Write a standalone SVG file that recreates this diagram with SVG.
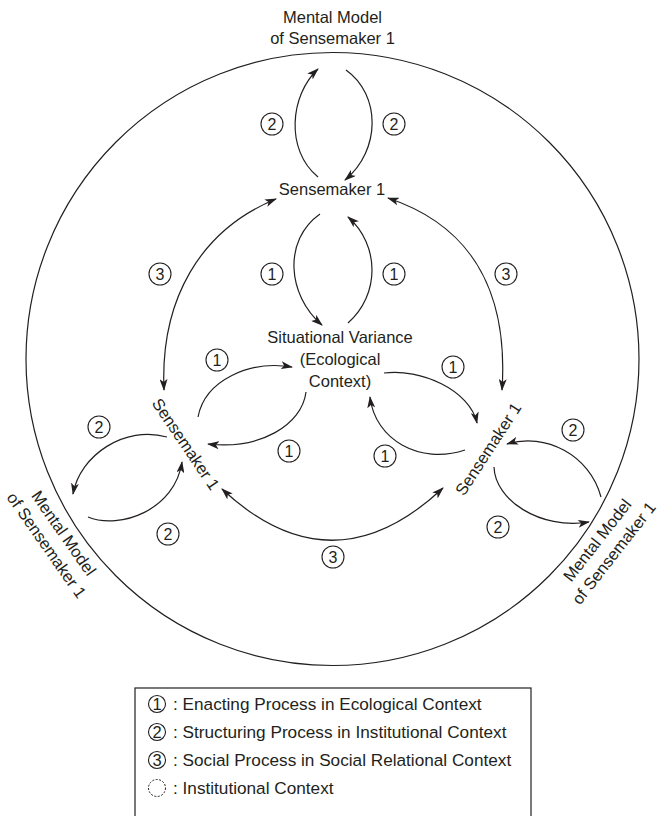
<svg xmlns="http://www.w3.org/2000/svg" width="659" height="816" viewBox="0 0 659 816">
<style>
text{font-family:"Liberation Sans",Arial,sans-serif;fill:#231f20}
.lbl{font-size:16.5px;text-anchor:middle}
.num{font-size:16px;text-anchor:middle}
.lnum{font-size:16.5px;text-anchor:middle}
.leg{font-size:17.2px}
.ring{fill:none;stroke:#231f20;stroke-width:1.1}
.arc{fill:none;stroke:#231f20;stroke-width:1.2;marker-end:url(#ah)}
.both{marker-start:url(#ah)}
.plain{fill:none;stroke:#231f20;stroke-width:1.2}
</style>
<defs>
<marker id="ah" viewBox="0 0 12 8" refX="11" refY="4" markerWidth="12" markerHeight="8" orient="auto-start-reverse" markerUnits="userSpaceOnUse">
<path d="M0,0 L12,4 L0,8 L3,4 z" fill="#231f20"/>
</marker>
</defs>
<rect width="659" height="816" fill="#fff"/>

<g id="institutional-context">
<circle class="plain" cx="332.5" cy="359" r="306.5"/>
</g>

<g id="mental-model-top">
<text class="lbl" x="332.5" y="23">Mental Model</text>
<text class="lbl" x="332.5" y="44">of Sensemaker 1</text>
</g>
<g id="sensemaker-top">
<text class="lbl" x="332" y="195">Sensemaker 1</text>
</g>
<g id="situational-variance">
<text class="lbl" x="340" y="343">Situational Variance</text>
<text class="lbl" x="340" y="365">(Ecological</text>
<text class="lbl" x="340" y="387">Context)</text>
</g>
<g id="sensemaker-left" transform="translate(186,444) rotate(56)">
<text class="lbl" x="0" y="6">Sensemaker 1</text>
</g>
<g id="sensemaker-right" transform="translate(488,449) rotate(-57)">
<text class="lbl" x="0" y="6">Sensemaker 1</text>
</g>
<g id="mental-model-left" transform="translate(64,533) rotate(55)">
<text class="lbl" x="0" y="6">Mental Model</text>
<text class="lbl" x="0" y="27">of Sensemaker 1</text>
</g>
<g id="mental-model-right" transform="translate(597,540) rotate(-52)">
<text class="lbl" x="0" y="6">Mental Model</text>
<text class="lbl" x="0" y="27">of Sensemaker 1</text>
</g>

<g id="connectors">
<path class="arc" d="M318,177 C285,150 290,95 318,69"/>
<path class="arc" d="M346,70 C381,95 381,150 345,180"/>
<path class="arc" d="M320,214 C283,240 287,295 322,325"/>
<path class="arc" d="M348,323 C380,295 380,245 348,217"/>
<path class="arc both" d="M276,199 C200,230 160,300 164,390"/>
<path class="arc both" d="M388,198 C478,228 508,300 502,390"/>
<path class="arc" d="M167,437 C125,425 80,455 73,494"/>
<path class="arc" d="M88,517 C120,530 175,510 182,462"/>
<path class="arc" d="M198,417 C205,380 250,360 292,367"/>
<path class="arc" d="M306,392 C302,425 260,450 208,444"/>
<path class="arc" d="M384,373 C420,368 470,390 477,423"/>
<path class="arc" d="M465,450 C420,465 375,440 370,397"/>
<path class="arc" d="M601,497 C590,455 545,432 507,444"/>
<path class="arc" d="M494,467 C495,500 540,530 589,522"/>
<path class="arc both" d="M222,489 Q332,592 443,488"/>
</g>

<g id="process-labels">
<g id="p2a"><circle class="ring" cx="272" cy="124" r="11"/><text class="num" x="272" y="130">2</text></g>
<g id="p2b"><circle class="ring" cx="394" cy="124" r="11"/><text class="num" x="394" y="130">2</text></g>
<g id="p3a"><circle class="ring" cx="160" cy="274" r="11"/><text class="num" x="160" y="280">3</text></g>
<g id="p1a"><circle class="ring" cx="272" cy="274" r="11"/><text class="num" x="272" y="280">1</text></g>
<g id="p1b"><circle class="ring" cx="394" cy="274" r="11"/><text class="num" x="394" y="280">1</text></g>
<g id="p3b"><circle class="ring" cx="506" cy="274" r="11"/><text class="num" x="506" y="280">3</text></g>
<g id="p1c"><circle class="ring" cx="217" cy="360" r="11"/><text class="num" x="217" y="366">1</text></g>
<g id="p1d"><circle class="ring" cx="453" cy="367" r="11"/><text class="num" x="453" y="373">1</text></g>
<g id="p2c"><circle class="ring" cx="99" cy="427" r="11"/><text class="num" x="99" y="433">2</text></g>
<g id="p2d"><circle class="ring" cx="573" cy="430" r="11"/><text class="num" x="573" y="436">2</text></g>
<g id="p1e"><circle class="ring" cx="289" cy="451" r="11"/><text class="num" x="289" y="457">1</text></g>
<g id="p1f"><circle class="ring" cx="385" cy="456" r="11"/><text class="num" x="385" y="462">1</text></g>
<g id="p2e"><circle class="ring" cx="168" cy="534" r="11"/><text class="num" x="168" y="540">2</text></g>
<g id="p2f"><circle class="ring" cx="498" cy="527" r="11"/><text class="num" x="498" y="533">2</text></g>
<g id="p3c"><circle class="ring" cx="333" cy="557" r="11"/><text class="num" x="333" y="563">3</text></g>
</g>

<g id="legend">
<rect x="135" y="688" width="396" height="140" fill="none" stroke="#231f20" stroke-width="1.2"/>
<circle class="ring" cx="157" cy="704" r="8.5"/><text class="lnum" x="157" y="710">1</text>
<text class="leg" x="173" y="710">: Enacting Process in Ecological Context</text>
<circle class="ring" cx="157" cy="732" r="8.5"/><text class="lnum" x="157" y="738">2</text>
<text class="leg" x="173" y="738">: Structuring Process in Institutional Context</text>
<circle class="ring" cx="157" cy="760" r="8.5"/><text class="lnum" x="157" y="766">3</text>
<text class="leg" x="173" y="766">: Social Process in Social Relational Context</text>
<circle cx="157" cy="788" r="8.5" fill="none" stroke="#231f20" stroke-width="1" stroke-dasharray="2,1.5"/>
<text class="leg" x="173" y="794">: Institutional Context</text>
</g>
</svg>
